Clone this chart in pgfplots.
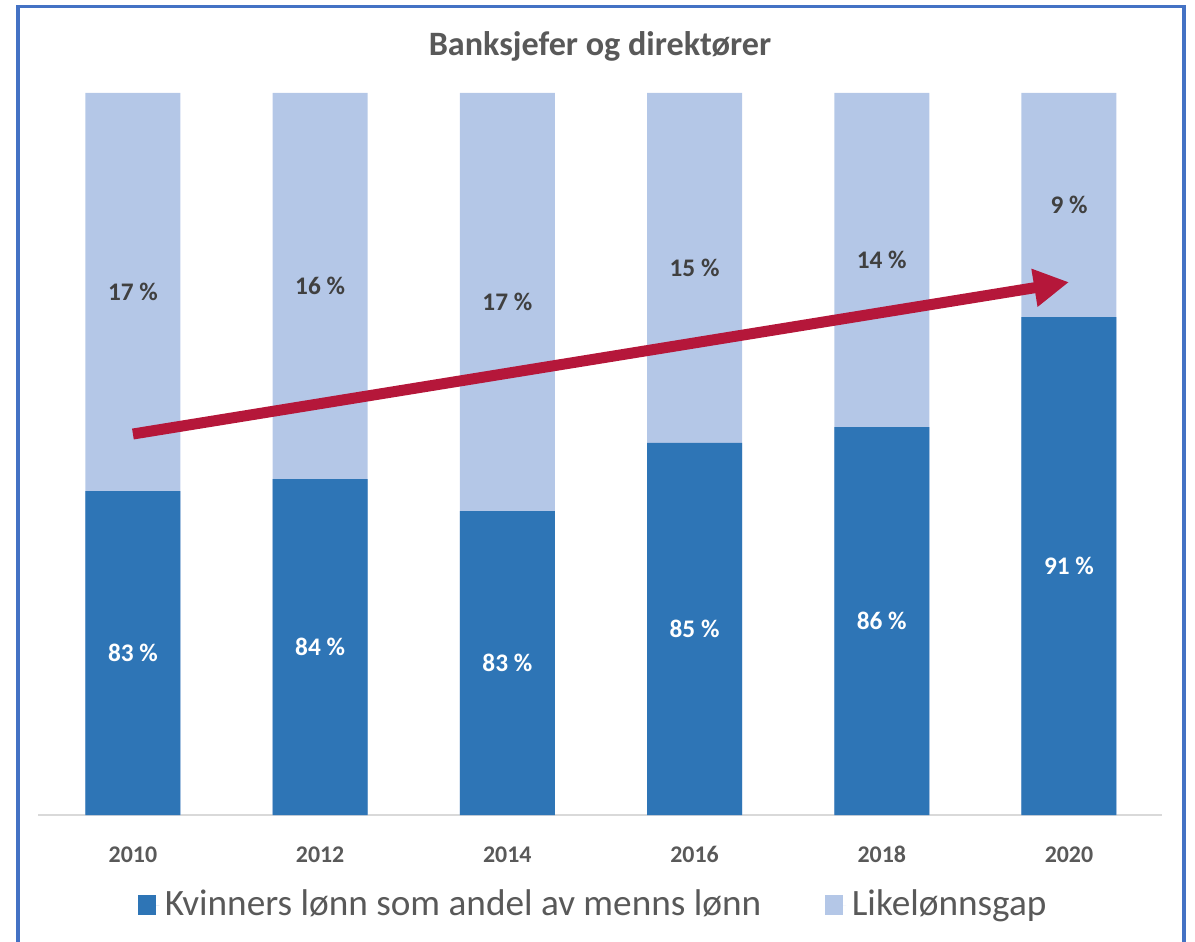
\documentclass[border=0pt]{standalone}
\usepackage{fontspec}
\setmainfont{Carlito}
\usepackage{pgfplots}
\pgfplotsset{compat=1.18}
\usetikzlibrary{arrows.meta}

\definecolor{darkblue}{HTML}{2E75B6}
\definecolor{lightblue}{HTML}{B4C7E7}
\definecolor{textgray}{HTML}{595959}
\definecolor{labelgray}{HTML}{404040}
\definecolor{axisgray}{HTML}{D9D9D9}
\definecolor{framblue}{HTML}{4472C4}
\definecolor{arrowred}{HTML}{B5173A}

% 1 px of the reference = 0.36pt
\begin{document}
\begin{tikzpicture}
\begin{scope}[x=0.36pt, y=-0.36pt]
  \path[use as bounding box] (0,0) rectangle (1195,942);
  \draw[framblue, line width=1.1pt] (18,950) -- (18,6.5) -- (1184,6.5) -- (1184,950);
  \node[anchor=base, text=textgray, font=\bfseries\fontsize{12.3}{14}\selectfont] at (600,56) {Banksjefer og direktører};
\end{scope}
\begin{axis}[
    at={(13.68pt,-293.4pt)}, anchor=south west,
    scale only axis,
    width=404.64pt, height=259.92pt,
    xmin=-0.507, xmax=5.497,
    ymin=70, ymax=100,
    axis y line=none,
    axis x line=bottom,
    x axis line style={-, draw=axisgray, line width=0.6pt},
    xtick={0,1,2,3,4,5},
    xticklabels={2010,2012,2014,2016,2018,2020},
    xtick style={draw=none},
    xticklabel style={anchor=base, yshift=-15.1pt, text=textgray,
        font=\bfseries\fontsize{8.6}{10}\selectfont},
    legend columns=2,
    legend style={draw=none, fill=none, at={(0.4956,-0.1247)}, anchor=center,
        text=textgray, font=\fontsize{13.4}{15}\selectfont,
        /tikz/every even column/.append style={column sep=21pt}},
    legend image code/.code={\path (0pt,0pt) -- (7.6pt,0pt);
        \fill[#1] (0pt,-3.7pt) rectangle (6.4pt,3.7pt);},
    clip=false,
]
% Likelønnsgap: full bar to 100, Kvinners lønn drawn over it
\addplot[ybar, bar width=34.2pt, bar shift=0pt, fill=lightblue, draw=none, forget plot]
    coordinates {(0,100) (1,100) (2,100) (3,100) (4,100) (5,100)};
\addplot[ybar, bar width=34.2pt, bar shift=0pt, fill=darkblue, draw=none]
    coordinates {(0,83.46) (1,83.96) (2,82.63) (3,85.46) (4,86.12) (5,90.69)};
\addlegendentry{Kvinners lønn som andel av menns lønn}
\addlegendimage{fill=lightblue, draw=none}
\addlegendentry{Likelønnsgap}

% labels in the middle of each segment
\addplot[only marks, mark=none, forget plot, point meta=explicit symbolic,
    nodes near coords, nodes near coords style={anchor=center, text=white,
        font=\bfseries\fontsize{9.1}{11}\selectfont}]
    coordinates {(0,76.73)[83 \%] (1,76.98)[84 \%] (2,76.32)[83 \%]
                 (3,77.73)[85 \%] (4,78.06)[86 \%] (5,80.35)[91 \%]};
\addplot[only marks, mark=none, forget plot, point meta=explicit symbolic,
    nodes near coords, nodes near coords style={anchor=center, text=labelgray,
        font=\bfseries\fontsize{9.1}{11}\selectfont}]
    coordinates {(0,91.73)[17 \%] (1,91.98)[16 \%] (2,91.32)[17 \%]
                 (3,92.73)[15 \%] (4,93.06)[14 \%] (5,95.35)[9 \%]};

\draw[arrowred, line width=3.96pt, -{Triangle[length=12.6pt, width=13pt]}]
    (axis cs:0,85.83) -- (axis cs:5,92.14);
\end{axis}
\end{tikzpicture}
\end{document}
